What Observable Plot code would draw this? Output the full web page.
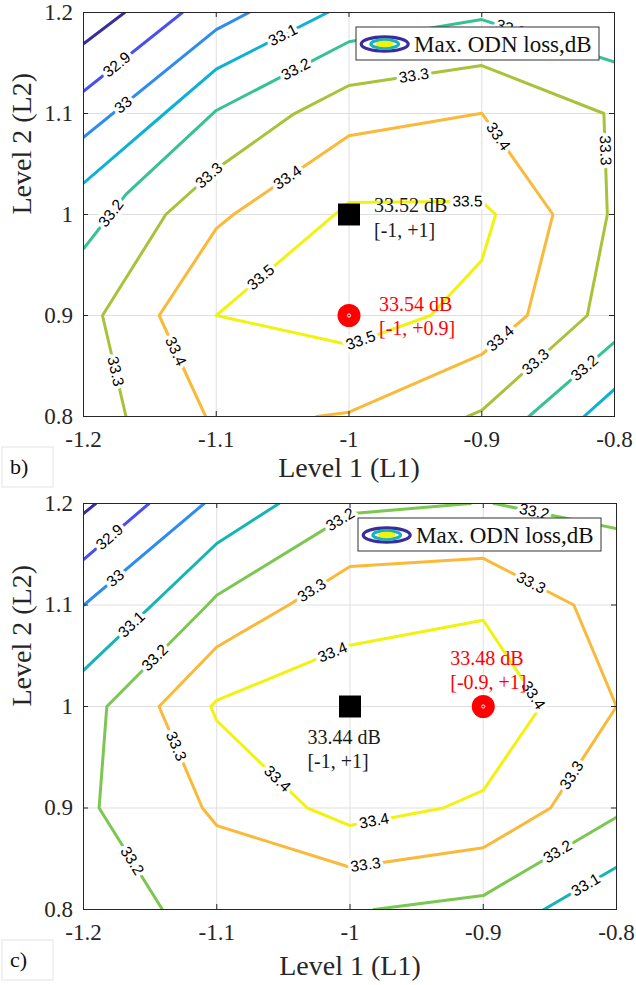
<!DOCTYPE html>
<html><head><meta charset="utf-8">
<script src="https://cdn.jsdelivr.net/npm/d3@7"></script>
<script src="https://cdn.jsdelivr.net/npm/@observablehq/plot@0.6"></script>
<style>
html,body{margin:0;padding:0;background:#fff;}
#chart{width:636px;}
#chart svg{display:block;}
</style></head><body><div id="chart"></div>
<script>
// ---------------- data ----------------
const xTicks = [-1.2, -1.1, -1, -0.9, -0.8];
const xTickLabels = ["-1.2", "-1.1", "-1", "-0.9", "-0.8"];
const yTicks = [0.8, 0.9, 1, 1.1, 1.2];
const yTickLabels = ["0.8", "0.9", "1", "1.1", "1.2"];
const xLabel = "Level 1 (L1)";
const yLabel = "Level 2 (L2)";
const legendLabel = "Max. ODN loss,dB";
const panelTags = ["b)", "c)"];

const levelsB = [32.8, 32.9, 33.0, 33.1, 33.2, 33.3, 33.4, 33.5];
const levelsC = [32.8, 32.9, 33.0, 33.1, 33.2, 33.3, 33.4];

// panel b contour polylines, points are [L1, L2]
const b328 = [[-1.2, 1.169], [-1.169, 1.2]];
const b329 = [[-1.2, 1.122], [-1.1255, 1.2]];
const b330 = [[-1.2, 1.0765], [-1.1, 1.183], [-1.0753, 1.2]];
const b331a = [[-1.2, 1.031], [-1.139, 1.1], [-1.1, 1.144], [-1.016, 1.2]];
const b331b = [[-0.823, 0.8], [-0.8, 0.827]];
const b332a = [[-1.2, 0.966], [-1.168, 1.02], [-1.1, 1.103], [-1.0, 1.171], [-0.9, 1.193], [-0.8, 1.151]];
const b332b = [[-0.8645, 0.8], [-0.8, 0.8736]];
const b333 = [[-1.168, 0.8], [-1.1857, 0.9], [-1.138, 1.0], [-1.1, 1.045], [-1.0414, 1.0997], [-1.0, 1.1277],
  [-0.9, 1.1475], [-0.808, 1.1], [-0.8054, 1.0], [-0.8205, 0.9], [-0.9, 0.806], [-0.9108, 0.8]];
const b334 = [[-1.108, 0.8], [-1.143, 0.9], [-1.1, 0.986], [-1.087, 1.0], [-1.0, 1.078], [-0.9, 1.1003],
  [-0.8464, 1.0], [-0.8657, 0.9], [-0.9, 0.8614], [-1.0, 0.8043], [-1.0243, 0.8]];
const b335 = [[-1.1, 0.9], [-1.0, 1.012], [-0.9, 1.013], [-0.8895, 1.0], [-0.9, 0.9545], [-0.9385, 0.9],
  [-1.0, 0.871], [-1.1, 0.9]];

// panel c contour polylines
const c328 = [[-1.2, 1.19], [-1.1908, 1.2]];
const c329 = [[-1.2, 1.1448], [-1.1508, 1.2]];
const c330 = [[-1.2, 1.0997], [-1.1095, 1.2]];
const c331a = [[-1.2, 1.0356], [-1.1, 1.1606], [-1.0533, 1.2]];
const c331b = [[-0.8545, 0.8], [-0.8, 0.8416]];
const c332a = [[-1.1408, 0.8], [-1.1883, 0.9], [-1.1825, 1.0], [-1.107, 1.1], [-1.1, 1.1096], [-1.0, 1.19], [-0.9095, 1.2]];
const c332b = [[-0.892, 1.2], [-0.8, 1.1753]];
const c332c = [[-0.982, 0.8], [-0.9, 0.8137], [-0.8, 0.8909]];
const c333 = [[-0.8, 1.0], [-0.832, 1.1], [-0.9, 1.146], [-1.0, 1.138], [-1.046, 1.1], [-1.1, 1.0586],
  [-1.1433, 1.0], [-1.1108, 0.9], [-1.1, 0.8827], [-1.0, 0.8416], [-0.9, 0.8608], [-0.8495, 0.9], [-0.8, 1.0]];
const c334 = [[-1.1045, 1.0], [-1.1, 0.986], [-1.032, 0.9], [-1.0, 0.8827], [-0.93, 0.9], [-0.9, 0.9173],
  [-0.857, 1.0], [-0.9, 1.085], [-1.0, 1.0603], [-1.1, 1.006], [-1.1045, 1.0]];

const contoursB = [
  {level: 32.8, path: b328}, {level: 32.9, path: b329}, {level: 33.0, path: b330},
  {level: 33.1, path: b331a}, {level: 33.1, path: b331b},
  {level: 33.2, path: b332a}, {level: 33.2, path: b332b},
  {level: 33.3, path: b333}, {level: 33.4, path: b334}, {level: 33.5, path: b335}
];
const contoursC = [
  {level: 32.8, path: c328}, {level: 32.9, path: c329}, {level: 33.0, path: c330},
  {level: 33.1, path: c331a}, {level: 33.1, path: c331b},
  {level: 33.2, path: c332a}, {level: 33.2, path: c332b}, {level: 33.2, path: c332c},
  {level: 33.3, path: c333}, {level: 33.4, path: c334}
];

// contour labels [level, L1, L2]
const labelsB = [
  [32.9, -1.1744, 1.1475], [33.0, -1.1706, 1.1096], [33.1, -1.049, 1.1755],
  [33.2, -1.179, 1.001], [33.2, -1.039, 1.141], [33.2, -0.8782, 1.1842], [33.2, -0.823, 0.8488],
  [33.3, -1.178, 0.844], [33.3, -1.1066, 1.0403], [33.3, -0.951, 1.136], [33.3, -0.808, 1.0634], [33.3, -0.858, 0.852],
  [33.4, -1.1318, 0.8637], [33.4, -1.0464, 1.037], [33.4, -0.8883, 1.0765], [33.4, -0.8858, 0.8769],
  [33.5, -1.0665, 0.938], [33.5, -0.9108, 1.0139], [33.5, -0.9912, 0.8752]
];
const labelsC = [
  [32.9, -1.1795, 1.1655], [33.0, -1.1758, 1.126], [33.1, -1.1645, 1.0817], [33.1, -0.822, 0.8219],
  [33.2, -1.1633, 0.8482], [33.2, -1.147, 1.0487], [33.2, -1.007, 1.1835], [33.2, -0.862, 1.19], [33.2, -0.8433, 0.8548],
  [33.3, -1.132, 0.96], [33.3, -0.9883, 0.8434], [33.3, -0.8333, 0.932], [33.3, -0.8645, 1.1211], [33.3, -1.028, 1.113],
  [33.4, -1.0545, 0.9288], [33.4, -0.982, 0.8877], [33.4, -0.8626, 1.011], [33.4, -1.0132, 1.0537]
];

// marked points
const bestB = [{L1: -1, L2: 1, loss: 33.52}];
const optB = [{L1: -1, L2: 0.9, loss: 33.54}];
const bestC = [{L1: -1, L2: 1, loss: 33.44}];
const optC = [{L1: -0.9, L2: 1, loss: 33.48}];

// ---------------- styles ----------------
const paletteB = ["#3b2c9d", "#4a50ee", "#2e8bef", "#0eb1d6", "#36c196", "#a8c23a", "#fbb939", "#f2f20f"];
const paletteC = ["#3b2c9d", "#4a50ee", "#2e8bef", "#16b4b4", "#7bc752", "#fbb939", "#f2f20f"];
const SERIF = "Liberation Serif";
const SANS = "Liberation Sans";
const AXC = "#262626";

function placeLabels(labels, contours, sx, sy) {
  return labels.map(([level, L1, L2]) => {
    const px = sx(L1), py = sy(L2);
    let best = null;
    for (const c of contours) {
      if (c.level !== level) continue;
      for (let i = 0; i < c.path.length - 1; i++) {
        const ax = sx(c.path[i][0]), ay = sy(c.path[i][1]);
        const bx = sx(c.path[i + 1][0]), by = sy(c.path[i + 1][1]);
        const vx = bx - ax, vy = by - ay, L = vx * vx + vy * vy;
        let t = L ? ((px - ax) * vx + (py - ay) * vy) / L : 0;
        t = Math.max(0, Math.min(1, t));
        const qx = ax + t * vx, qy = ay + t * vy;
        const d = (qx - px) ** 2 + (qy - py) ** 2;
        if (!best || d < best.d) best = {d, qx, qy, vx, vy};
      }
    }
    let ang = Math.atan2(best.vy, best.vx) * 180 / Math.PI;
    if (ang > 90) ang -= 180;
    if (ang <= -90) ang += 180;
    return {level, L1: sx.invert(best.qx), L2: sy.invert(best.qy), angle: ang, text: String(level)};
  });
}

function makePanel(cfg) {
  const W = 636, ml = 83;
  const {height, mt, mb, mr} = cfg;
  const sx = d3.scaleLinear([-1.2, -0.8], [ml, W - mr]);
  const sy = d3.scaleLinear([0.8, 1.2], [height - mb, mt]);
  const plotW = W - ml - mr, plotH = height - mt - mb;
  const rows = cfg.contours.flatMap((c, i) => c.path.map(([L1, L2]) => ({id: i, level: c.level, L1, L2})));
  const lab = placeLabels(cfg.labels, cfg.contours, sx, sy);
  const ann = d => `${d.loss.toFixed(2)} dB\n[${d.L1}, +${d.L2}]`;
  const svg = Plot.plot({
    width: W, height, marginLeft: ml, marginRight: mr, marginTop: mt, marginBottom: mb,
    x: {domain: [-1.2, -0.8]},
    y: {domain: [0.8, 1.2]},
    color: {type: "ordinal", domain: cfg.levels, range: cfg.palette},
    style: {color: AXC, background: "white"},
    marks: [
      Plot.gridX(xTicks, {stroke: "#dfdfdf", strokeOpacity: 1, strokeWidth: 1}),
      Plot.gridY(yTicks, {stroke: "#dfdfdf", strokeOpacity: 1, strokeWidth: 1}),
      Plot.line(rows, {x: "L1", y: "L2", z: "id", stroke: "level", strokeWidth: 3, clip: true}),
      Plot.text(lab, {x: "L1", y: "L2", text: "text", rotate: "angle", fill: "black", stroke: "white",
        strokeWidth: 7, paintOrder: "stroke", fontSize: 15.5, fontFamily: SANS, ariaDescription: "contour-label"}),
      Plot.dot(cfg.best, {x: "L1", y: "L2", symbol: "square", r: 12.4, fill: "black"}),
      Plot.dot(cfg.opt, {x: "L1", y: "L2", r: 11.5, fill: "#ff0000"}),
      Plot.dot(cfg.opt, {x: "L1", y: "L2", r: 1.6, fill: "#ff0000", stroke: "white", strokeWidth: 1}),
      Plot.text(cfg.best, {x: "L1", y: "L2", text: ann, textAnchor: "start", lineAnchor: "top",
        lineHeight: 1.22, dx: cfg.bestOff[0], dy: cfg.bestOff[1], fontSize: 20, fill: "#1a1a1a", fontFamily: SERIF}),
      Plot.text(cfg.opt, {x: "L1", y: "L2", text: ann, textAnchor: "start", lineAnchor: "top",
        lineHeight: 1.2, dx: cfg.optOff[0], dy: cfg.optOff[1], fontSize: 20, fill: "#ff0000", fontFamily: SERIF}),
      Plot.frame({stroke: AXC, strokeWidth: 1}),
      Plot.ruleX(xTicks, {insetTop: plotH - 5, stroke: AXC}),
      Plot.ruleX(xTicks, {insetBottom: plotH - 5, stroke: AXC}),
      Plot.ruleY(yTicks, {insetRight: plotW - 5, stroke: AXC}),
      Plot.ruleY(yTicks, {insetLeft: plotW - 5, stroke: AXC}),
      Plot.axisX(xTicks, {tickFormat: d => xTickLabels[xTicks.indexOf(d)], tickSize: 0, tickPadding: 14,
        fontSize: 23, fontFamily: SERIF, label: null, color: AXC}),
      Plot.axisY(yTicks, {tickFormat: d => yTickLabels[yTicks.indexOf(d)], tickSize: 0, tickPadding: 10.5,
        fontSize: 23, fontFamily: SERIF, label: null, color: AXC}),
      Plot.text([xLabel], {frameAnchor: "bottom", dy: cfg.xLabDy, fontSize: 28, fontFamily: SERIF, fill: AXC}),
      Plot.text([yLabel], {frameAnchor: "left", dx: -61, rotate: -90, fontSize: 28, fontFamily: SERIF, fill: AXC})
    ]
  });
  // serif for every text except the contour labels, which stay sans
  svg.querySelectorAll("text").forEach(t => {
    const isContour = t.closest('[aria-description="contour-label"]');
    t.setAttribute("font-family", isContour ? SANS : SERIF);
  });
  const g = d3.select(svg).append("g");
  // legend
  const lw = 243, lh = 33;
  const lx = W - mr - 15 - lw, ly = mt + 15;
  g.append("rect").attr("x", lx).attr("y", ly).attr("width", lw).attr("height", lh)
    .attr("fill", "white").attr("stroke", "#333").attr("stroke-width", 1);
  const ecx = lx + 28.7, ecy = ly + 17;
  [[23.5, 7.2, cfg.palette[0]], [13.8, 4.2, "#16b4b8"], [7, 1.7, "#f2f20f"]].forEach(([rx, ry, c]) => {
    g.append("ellipse").attr("cx", ecx).attr("cy", ecy).attr("rx", rx).attr("ry", ry)
      .attr("fill", "none").attr("stroke", c).attr("stroke-width", 3.2);
  });
  g.append("text").attr("x", lx + 58).attr("y", ly + 24.7).attr("text-anchor", "start")
    .attr("font-size", 23).attr("font-family", SERIF).attr("fill", "#111").text(legendLabel);
  // panel tag
  g.append("rect").attr("x", 2).attr("y", cfg.tagY).attr("width", 51).attr("height", 40)
    .attr("fill", "white").attr("stroke", "#e4e4e4").attr("stroke-width", 1);
  g.append("text").attr("x", 10).attr("y", cfg.tagY + 26.5).attr("text-anchor", "start")
    .attr("font-size", 22).attr("font-family", SERIF).attr("fill", "#111").text(cfg.tag);
  return svg;
}

const chart = document.getElementById("chart");
chart.appendChild(makePanel({
  contours: contoursB, levels: levelsB, palette: paletteB, labels: labelsB,
  best: bestB, opt: optB, tag: panelTags[0],
  height: 490, mt: 12, mb: 74, mr: 22, xLabDy: 60, tagY: 447,
  bestOff: [25, -19.5], optOff: [30, -21.2]
}));
chart.appendChild(makePanel({
  contours: contoursC, levels: levelsC, palette: paletteC, labels: labelsC,
  best: bestC, opt: optC, tag: panelTags[1],
  height: 495, mt: 13, mb: 76, mr: 20, xLabDy: 65, tagY: 450,
  bestOff: [-42.6, 19.8], optOff: [-33, -58.2]
}));
</script></body></html>
